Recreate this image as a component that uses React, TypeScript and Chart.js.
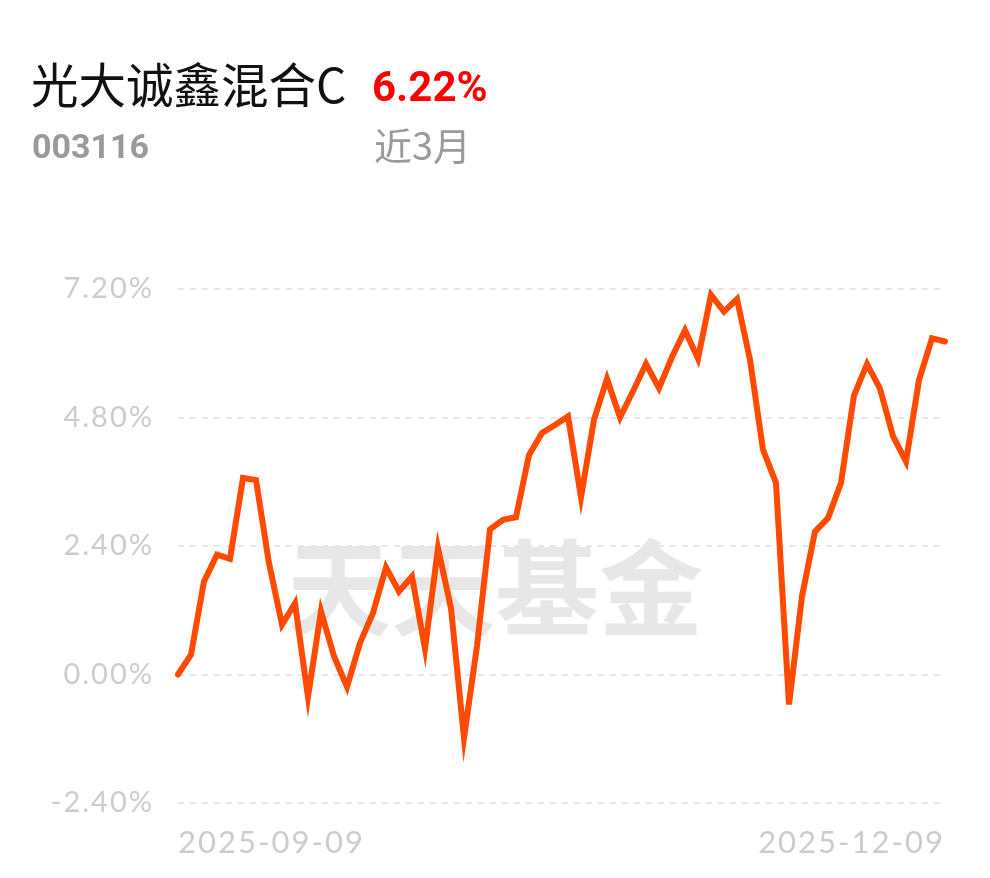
import React, { useEffect, useRef } from "react";
import { Chart, registerables } from "chart.js";

Chart.register(...registerables);

const fundName = "光大诚鑫混合C";
const fundCode = "003116";
const periodReturn = "6.22%";
const periodLabel = "近3月";
const watermark = "天天基金";

const dates: string[] = [
  "2025-09-09", "2025-09-10", "2025-09-11", "2025-09-12", "2025-09-15", "2025-09-16",
  "2025-09-17", "2025-09-18", "2025-09-19", "2025-09-22", "2025-09-23", "2025-09-24",
  "2025-09-25", "2025-09-26", "2025-09-29", "2025-09-30",
  "2025-10-09", "2025-10-10", "2025-10-13", "2025-10-14", "2025-10-15", "2025-10-16",
  "2025-10-17", "2025-10-20", "2025-10-21", "2025-10-22", "2025-10-23", "2025-10-24",
  "2025-10-27", "2025-10-28", "2025-10-29", "2025-10-30", "2025-10-31",
  "2025-11-03", "2025-11-04", "2025-11-05", "2025-11-06", "2025-11-07", "2025-11-10",
  "2025-11-11", "2025-11-12", "2025-11-13", "2025-11-14", "2025-11-17", "2025-11-18",
  "2025-11-19", "2025-11-20", "2025-11-21", "2025-11-24", "2025-11-25", "2025-11-26",
  "2025-11-27", "2025-11-28",
  "2025-12-01", "2025-12-02", "2025-12-03", "2025-12-04", "2025-12-05", "2025-12-08",
  "2025-12-09",
];

const returns: number[] = [
  0.0, 0.37, 1.74, 2.24, 2.16, 3.67, 3.63, 2.08, 0.93, 1.33,
  -0.42, 1.18, 0.34, -0.23, 0.59, 1.15, 2.0, 1.55, 1.83, 0.48,
  2.36, 1.24, -1.18, 0.53, 2.71, 2.89, 2.94, 4.1, 4.51, 4.66,
  4.82, 3.31, 4.76, 5.52, 4.8, 5.29, 5.8, 5.35, 5.93, 6.43,
  5.9, 7.09, 6.78, 7.01, 5.88, 4.2, 3.58, -0.56, 1.46, 2.67,
  2.92, 3.58, 5.21, 5.8, 5.34, 4.45, 3.98, 5.5, 6.28, 6.22,
];

const yMin = -2.4;
const yMax = 7.2;
const yStep = 2.4;

const watermarkPlugin = {
  id: "watermark",
  beforeDraw(chart: any) {
    const { ctx } = chart;
    ctx.save();
    ctx.font = "bold 104px 'Noto Sans CJK SC'";
    ctx.fillStyle = "#e7e7e7";
    ctx.textAlign = "center";
    ctx.textBaseline = "middle";
    ctx.fillText(watermark, 495, 588);
    ctx.restore();
    ctx.letterSpacing = "2px";
  },
};

export default function App() {
  const ref = useRef<HTMLCanvasElement>(null);

  useEffect(() => {
    if (!ref.current) return;
    const chart = new Chart(ref.current, {
      type: "line",
      data: {
        labels: dates,
        datasets: [
          {
            data: returns,
            borderColor: "#ff4a00",
            borderWidth: 6,
            pointRadius: 0,
            tension: 0,
            fill: false,
            borderCapStyle: "round",
          },
        ],
      },
      options: {
        animation: false,
        responsive: false,
        devicePixelRatio: 1,
        layout: { padding: { top: 289, right: 45, bottom: 0, left: 0 } },
        plugins: { legend: { display: false }, tooltip: { enabled: false } },
        scales: {
          x: {
            type: "category",
            offset: false,
            grid: { display: false },
            border: { display: false },
            afterBuildTicks(scale: any) {
              const t = scale.ticks;
              scale.ticks = [t[0], t[t.length - 1]];
            },
            afterFit(scale: any) {
              scale.height = 75;
            },
            ticks: {
              autoSkip: false,
              maxRotation: 0,
              align: "inner",
              padding: 13,
              color: "#cccccc",
              font: { family: "Lato", size: 31 },
              callback(this: any, value: any) {
                return this.getLabelForValue(value);
              },
            },
          },
          y: {
            min: yMin,
            max: yMax,
            border: { display: false, dash: [6, 6] },
            afterFit(scale: any) {
              scale.width = 178;
            },
            grid: {
              color: "#e6e6e6",
              lineWidth: 2,
              drawTicks: false,
            },
            ticks: {
              stepSize: yStep,
              padding: 24,
              color: "#cccccc",
              font: { family: "Lato", size: 29 },
              callback: (v: any) => Number(v).toFixed(2) + "%",
            },
          },
        },
      },
      plugins: [watermarkPlugin],
    });
    return () => chart.destroy();
  }, []);

  return (
    <div style={{ position: "absolute", left: 0, top: 0, width: 990, height: 878, background: "#fff" }}>
      <canvas ref={ref} width={990} height={878} style={{ position: "absolute", left: 0, top: 0 }} />
      <div
        style={{
          position: "absolute",
          left: 31,
          top: 55,
          fontFamily: "'Noto Sans CJK SC'",
          fontSize: 47.5,
          lineHeight: "56px",
          color: "#111",
          whiteSpace: "nowrap",
        }}
      >
        {fundName}
      </div>
      <div
        style={{
          position: "absolute",
          left: 372,
          top: 60,
          fontFamily: "Roboto",
          fontWeight: 700,
          fontSize: 42,
          lineHeight: "54px",
          color: "#ff0000",
          whiteSpace: "nowrap",
        }}
      >
        {periodReturn}
      </div>
      <div
        style={{
          position: "absolute",
          left: 32,
          top: 124,
          fontFamily: "Roboto",
          fontWeight: 700,
          fontSize: 34,
          lineHeight: "44px",
          color: "#9a9a9a",
          whiteSpace: "nowrap",
        }}
      >
        {fundCode}
      </div>
      <div
        style={{
          position: "absolute",
          left: 374,
          top: 121,
          fontFamily: "'Noto Sans CJK SC'",
          fontSize: 38,
          lineHeight: "46px",
          color: "#9a9a9a",
          whiteSpace: "nowrap",
        }}
      >
        {periodLabel}
      </div>
    </div>
  );
}
